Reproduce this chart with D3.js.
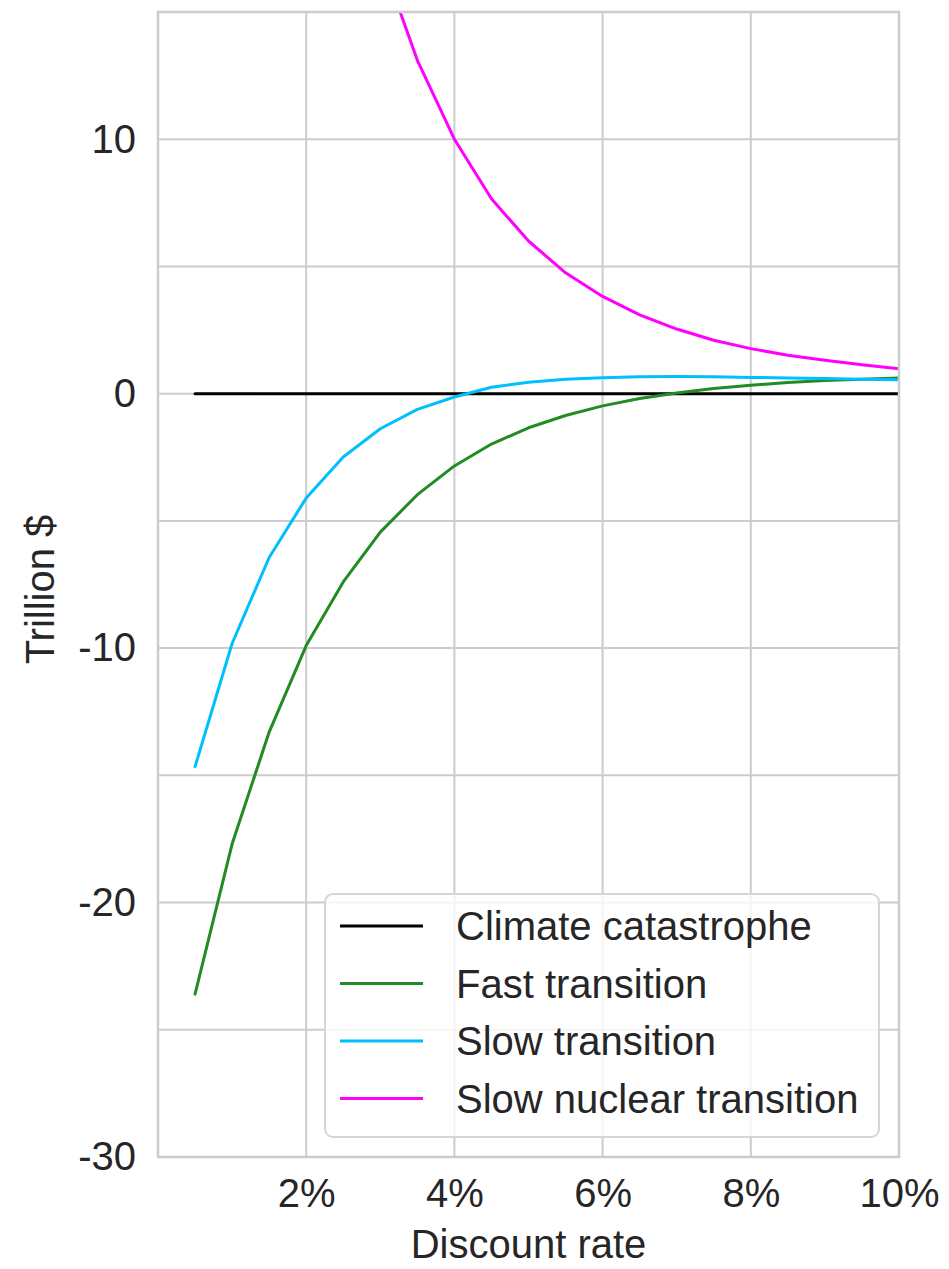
<!DOCTYPE html>
<html>
<head>
<meta charset="utf-8">
<script src="https://cdn.jsdelivr.net/npm/d3@7"></script>
<style>
  html, body { margin: 0; padding: 0; background: #fff; }
  svg { display: block; font-family: "Liberation Sans", Arial, sans-serif; }
</style>
</head>
<body>
<div id="chart"></div>
<script>
// Discount rates (%) at which each scenario is evaluated
const rates = [0.5, 1.0, 1.5, 2.0, 2.5, 3.0, 3.5, 4.0, 4.5, 5.0, 5.5, 6.0, 6.5, 7.0, 7.5, 8.0, 8.5, 9.0, 9.5, 10.0];

// Net present value relative to the climate catastrophe baseline (trillion $)
const climateCatastrophe = [0, 0, 0, 0, 0, 0, 0, 0, 0, 0, 0, 0, 0, 0, 0, 0, 0, 0, 0, 0];
const fastTransition = [-23.6, -17.7, -13.3, -9.9, -7.4, -5.44, -3.97, -2.84, -1.98, -1.34, -0.86, -0.48, -0.19, 0.03, 0.2, 0.33, 0.44, 0.52, 0.57, 0.62];
const slowTransition = [-14.66, -9.82, -6.44, -4.1, -2.49, -1.38, -0.62, -0.13, 0.25, 0.45, 0.57, 0.63, 0.66, 0.67, 0.66, 0.64, 0.62, 0.6, 0.57, 0.55];
// Nuclear scenario, from 3% upward (earlier values are far above the plotted range)
const nuclearRates = [3.0, 3.5, 4.0, 4.5, 5.0, 5.5, 6.0, 6.5, 7.0, 7.5, 8.0, 8.5, 9.0, 9.5, 10.0];
const slowNuclearTransition = [17.2, 13.1, 10.0, 7.66, 6.0, 4.75, 3.82, 3.1, 2.54, 2.1, 1.77, 1.51, 1.31, 1.14, 0.98];

const seriesNames = ["Climate catastrophe", "Fast transition", "Slow transition", "Slow nuclear transition"];
const seriesColors = ["#000000", "#228b22", "#00bfff", "#ff00ff"];

const xTicks = [2, 4, 6, 8, 10];
const yTickLabels = [-30, -20, -10, 0, 10];
const yGrid = [-25, -20, -15, -10, -5, 0, 5, 10];

const W = 949, H = 1269;
const margin = { left: 158, right: 50, top: 12, bottom: 112 };
const innerW = W - margin.left - margin.right;
const innerH = H - margin.top - margin.bottom;

const svg = d3.select("#chart").append("svg")
  .attr("width", W).attr("height", H);

const x = d3.scaleLinear().domain([0, 10]).range([margin.left, margin.left + innerW]);
const y = d3.scaleLinear().domain([-30, 15]).range([margin.top + innerH, margin.top]);

const gridColor = "#cccccc";
const textColor = "#262626";
const fontSize = 40;

// Grid lines
const grid = svg.append("g");
grid.selectAll(".gx").data(xTicks).join("line")
  .attr("x1", d => x(d)).attr("x2", d => x(d))
  .attr("y1", y(15)).attr("y2", y(-30))
  .attr("stroke", gridColor).attr("stroke-width", 2);
grid.selectAll(".gy").data(yGrid).join("line")
  .attr("x1", x(0)).attr("x2", x(10))
  .attr("y1", d => y(d)).attr("y2", d => y(d))
  .attr("stroke", gridColor).attr("stroke-width", 2);

// Axes (labels only; ticks hidden)
const xAxis = d3.axisBottom(x).tickValues(xTicks).tickSize(0).tickPadding(22)
  .tickFormat(d => d + "%");
const gx = svg.append("g").attr("transform", `translate(0,${y(-30)})`).call(xAxis);
gx.select(".domain").remove();
gx.selectAll("text").attr("font-size", fontSize).attr("fill", textColor)
  .attr("font-family", "Liberation Sans, Arial, sans-serif");

const yAxis = d3.axisLeft(y).tickValues(yTickLabels).tickSize(0).tickPadding(22)
  .tickFormat(d => String(d));
const gy = svg.append("g").attr("transform", `translate(${x(0)},0)`).call(yAxis);
gy.select(".domain").remove();
gy.selectAll("text").attr("font-size", fontSize).attr("fill", textColor)
  .attr("font-family", "Liberation Sans, Arial, sans-serif");

// Clip the data lines to the plotting area
svg.append("clipPath").attr("id", "plotClip").append("rect")
  .attr("x", x(0)).attr("y", y(15)).attr("width", innerW).attr("height", innerH);

const line = d3.line().x(d => x(d[0])).y(d => y(d[1]));
const seriesData = [
  rates.map((r, i) => [r, climateCatastrophe[i]]),
  rates.map((r, i) => [r, fastTransition[i]]),
  rates.map((r, i) => [r, slowTransition[i]]),
  nuclearRates.map((r, i) => [r, slowNuclearTransition[i]])
];

const lines = svg.append("g").attr("clip-path", "url(#plotClip)");
lines.selectAll("path").data(seriesData).join("path")
  .attr("d", line)
  .attr("fill", "none")
  .attr("stroke", (d, i) => seriesColors[i])
  .attr("stroke-width", 3)
  .attr("stroke-linecap", "round")
  .attr("stroke-linejoin", "round");

// Frame
svg.append("rect")
  .attr("x", x(0)).attr("y", y(15)).attr("width", innerW).attr("height", innerH)
  .attr("fill", "none").attr("stroke", gridColor).attr("stroke-width", 2.5);

// Axis titles
svg.append("text")
  .attr("x", (x(0) + x(10)) / 2).attr("y", 1258)
  .attr("text-anchor", "middle").attr("font-size", fontSize).attr("fill", textColor)
  .text("Discount rate");
svg.append("text")
  .attr("transform", `translate(54,${(y(15) + y(-30)) / 2 + 5}) rotate(-90)`)
  .attr("text-anchor", "middle").attr("font-size", fontSize).attr("fill", textColor)
  .text("Trillion $");

// Legend
const legend = svg.append("g");
legend.append("rect")
  .attr("x", 325).attr("y", 894).attr("width", 554).attr("height", 243)
  .attr("rx", 8).attr("ry", 8)
  .attr("fill", "rgba(255,255,255,0.8)").attr("stroke", "#d6d6d6").attr("stroke-width", 2);
const rowH = 57.5;
const items = legend.selectAll(".item").data(seriesNames).join("g")
  .attr("transform", (d, i) => `translate(0,${926 + i * rowH})`);
items.append("line")
  .attr("x1", 340).attr("x2", 423).attr("y1", 0).attr("y2", 0)
  .attr("stroke", (d, i) => seriesColors[i]).attr("stroke-width", 3);
items.append("text")
  .attr("x", 456).attr("y", 14)
  .attr("font-size", fontSize).attr("fill", textColor)
  .text(d => d);
</script>
</body>
</html>
